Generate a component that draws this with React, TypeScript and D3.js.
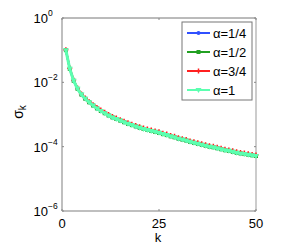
import React from "react";
import * as d3 from "d3";

const ks = d3.range(1, 51);
// log10(sigma_k)
const logAlpha1: number[] = [
  -1.0, -1.58, -1.95, -2.2, -2.38, -2.51, -2.62, -2.72, -2.81, -2.89,
  -2.96, -3.03, -3.09, -3.14, -3.19, -3.24, -3.29, -3.33, -3.37, -3.41,
  -3.45, -3.48, -3.51, -3.54, -3.57, -3.61, -3.64, -3.68, -3.71, -3.75,
  -3.78, -3.81, -3.85, -3.88, -3.91, -3.94, -3.97, -4.0, -4.02, -4.05,
  -4.08, -4.11, -4.13, -4.16, -4.19, -4.21, -4.23, -4.25, -4.27, -4.29,
];
const logAlpha3q: number[] = [
  -0.99, -1.56, -1.93, -2.18, -2.36, -2.49, -2.6, -2.7, -2.78, -2.86,
  -2.93, -3.0, -3.06, -3.11, -3.16, -3.21, -3.26, -3.3, -3.34, -3.38,
  -3.42, -3.45, -3.48, -3.51, -3.54, -3.58, -3.61, -3.65, -3.68, -3.72,
  -3.75, -3.78, -3.82, -3.85, -3.88, -3.91, -3.94, -3.97, -3.99, -4.02,
  -4.05, -4.08, -4.1, -4.13, -4.16, -4.18, -4.2, -4.22, -4.24, -4.26,
];
const logAlphaHalf: number[] = logAlpha1.map((v) => v);
const logAlphaQuarter: number[] = logAlpha1.map((v) => v);

const seriesNames = ["α=1/4", "α=1/2", "α=3/4", "α=1"];
const seriesColors = ["#3050ff", "#22a022", "#ff2020", "#5cffb0"];
const seriesMarkers = ["dot", "square", "plus", "tri"];
const seriesData = [logAlphaQuarter, logAlphaHalf, logAlpha3q, logAlpha1];

const yTicks = [0, -2, -4, -6];
const xTicks = [0, 25, 50];

function Marker({ type, x, y, color }: { type: string; x: number; y: number; color: string }) {
  if (type === "dot") return <circle cx={x} cy={y} r={2} fill={color} />;
  if (type === "square") return <rect x={x - 2} y={y - 2} width={4} height={4} fill={color} />;
  if (type === "plus")
    return (
      <path d={`M${x - 2.5},${y}H${x + 2.5}M${x},${y - 2.5}V${y + 2.5}`} stroke={color} strokeWidth={1.5} />
    );
  return <path d={`M${x - 3},${y - 2}L${x + 3},${y - 2}L${x},${y + 3}Z`} fill={color} />;
}

export default function App() {
  const W = 295, H = 244;
  const L = 62, R = 256, T = 18, B = 211;
  const x = d3.scaleLinear().domain([0, 50]).range([L, R]);
  const y = d3.scaleLinear().domain([-6, 0]).range([B, T]);
  const line = d3
    .line<number>()
    .x((_, i) => x(ks[i]))
    .y((d) => y(d));
  const font = "Liberation Sans, Arial, sans-serif";
  return (
    <svg width={W} height={H} style={{ position: "absolute", left: 0, top: 0, background: "#fff" }}>
      <rect width={W} height={H} fill="#fff" />
      {/* axes box */}
      <line x1={L} y1={T} x2={R} y2={T} stroke="#777" strokeWidth={1} />
      <line x1={R} y1={T} x2={R} y2={B} stroke="#999" strokeWidth={1} />
      <line x1={L} y1={T} x2={L} y2={B} stroke="#aaa" strokeWidth={1.5} />
      <line x1={L} y1={B} x2={R} y2={B} stroke="#aaa" strokeWidth={1.5} />
      {yTicks.map((t) => (
        <g key={t}>
          <line x1={L} x2={L + 2} y1={y(t)} y2={y(t)} stroke="#888" />
          <line x1={R} x2={R - 2} y1={y(t)} y2={y(t)} stroke="#888" />
          <text x={48} y={y(t) + 5} fontFamily={font} fontSize={13} textAnchor="end" fill="#000">
            10
          </text>
          <text x={48} y={y(t) - 2} fontFamily={font} fontSize={8.5} textAnchor="start" fill="#000">
            {t === 0 ? "0" : `−${-t}`}
          </text>
        </g>
      ))}
      {xTicks.map((t) => (
        <g key={t}>
          <line x1={x(t)} x2={x(t)} y1={B} y2={B - 2} stroke="#888" />
          <line x1={x(t)} x2={x(t)} y1={T} y2={T + 2} stroke="#888" />
          <text x={x(t)} y={228} fontFamily={font} fontSize={13} textAnchor="middle" fill="#000">
            {t}
          </text>
        </g>
      ))}
      <text x={158} y={242} fontFamily={font} fontSize={13} textAnchor="middle">
        k
      </text>
      <g transform="translate(23,112) rotate(-90)">
        <text x={0} y={0} fontFamily={font} fontSize={14} textAnchor="middle">
          σ<tspan fontSize={10} dy={3}>k</tspan>
        </text>
      </g>
      {/* series */}
      {seriesData.map((d, si) => (
        <g key={si}>
          <path d={line(d) || ""} fill="none" stroke={seriesColors[si]} strokeWidth={si === 3 ? 3 : 2} />
          {d.map((v, i) => (
            <Marker key={i} type={seriesMarkers[si]} x={x(ks[i])} y={y(v)} color={seriesColors[si]} />
          ))}
        </g>
      ))}
      {/* legend */}
      <rect x={182} y={22} width={70} height={78} fill="#fff" stroke="#777" strokeWidth={1} />
      {seriesNames.map((n, i) => {
        const ly = 33 + i * 19;
        return (
          <g key={n}>
            <line x1={187} x2={210} y1={ly} y2={ly} stroke={seriesColors[i]} strokeWidth={2} />
            <Marker type={seriesMarkers[i]} x={198.5} y={ly} color={seriesColors[i]} />
            <text x={213} y={ly + 5} fontFamily={font} fontSize={13} fill="#000">
              {n}
            </text>
          </g>
        );
      })}
    </svg>
  );
}
